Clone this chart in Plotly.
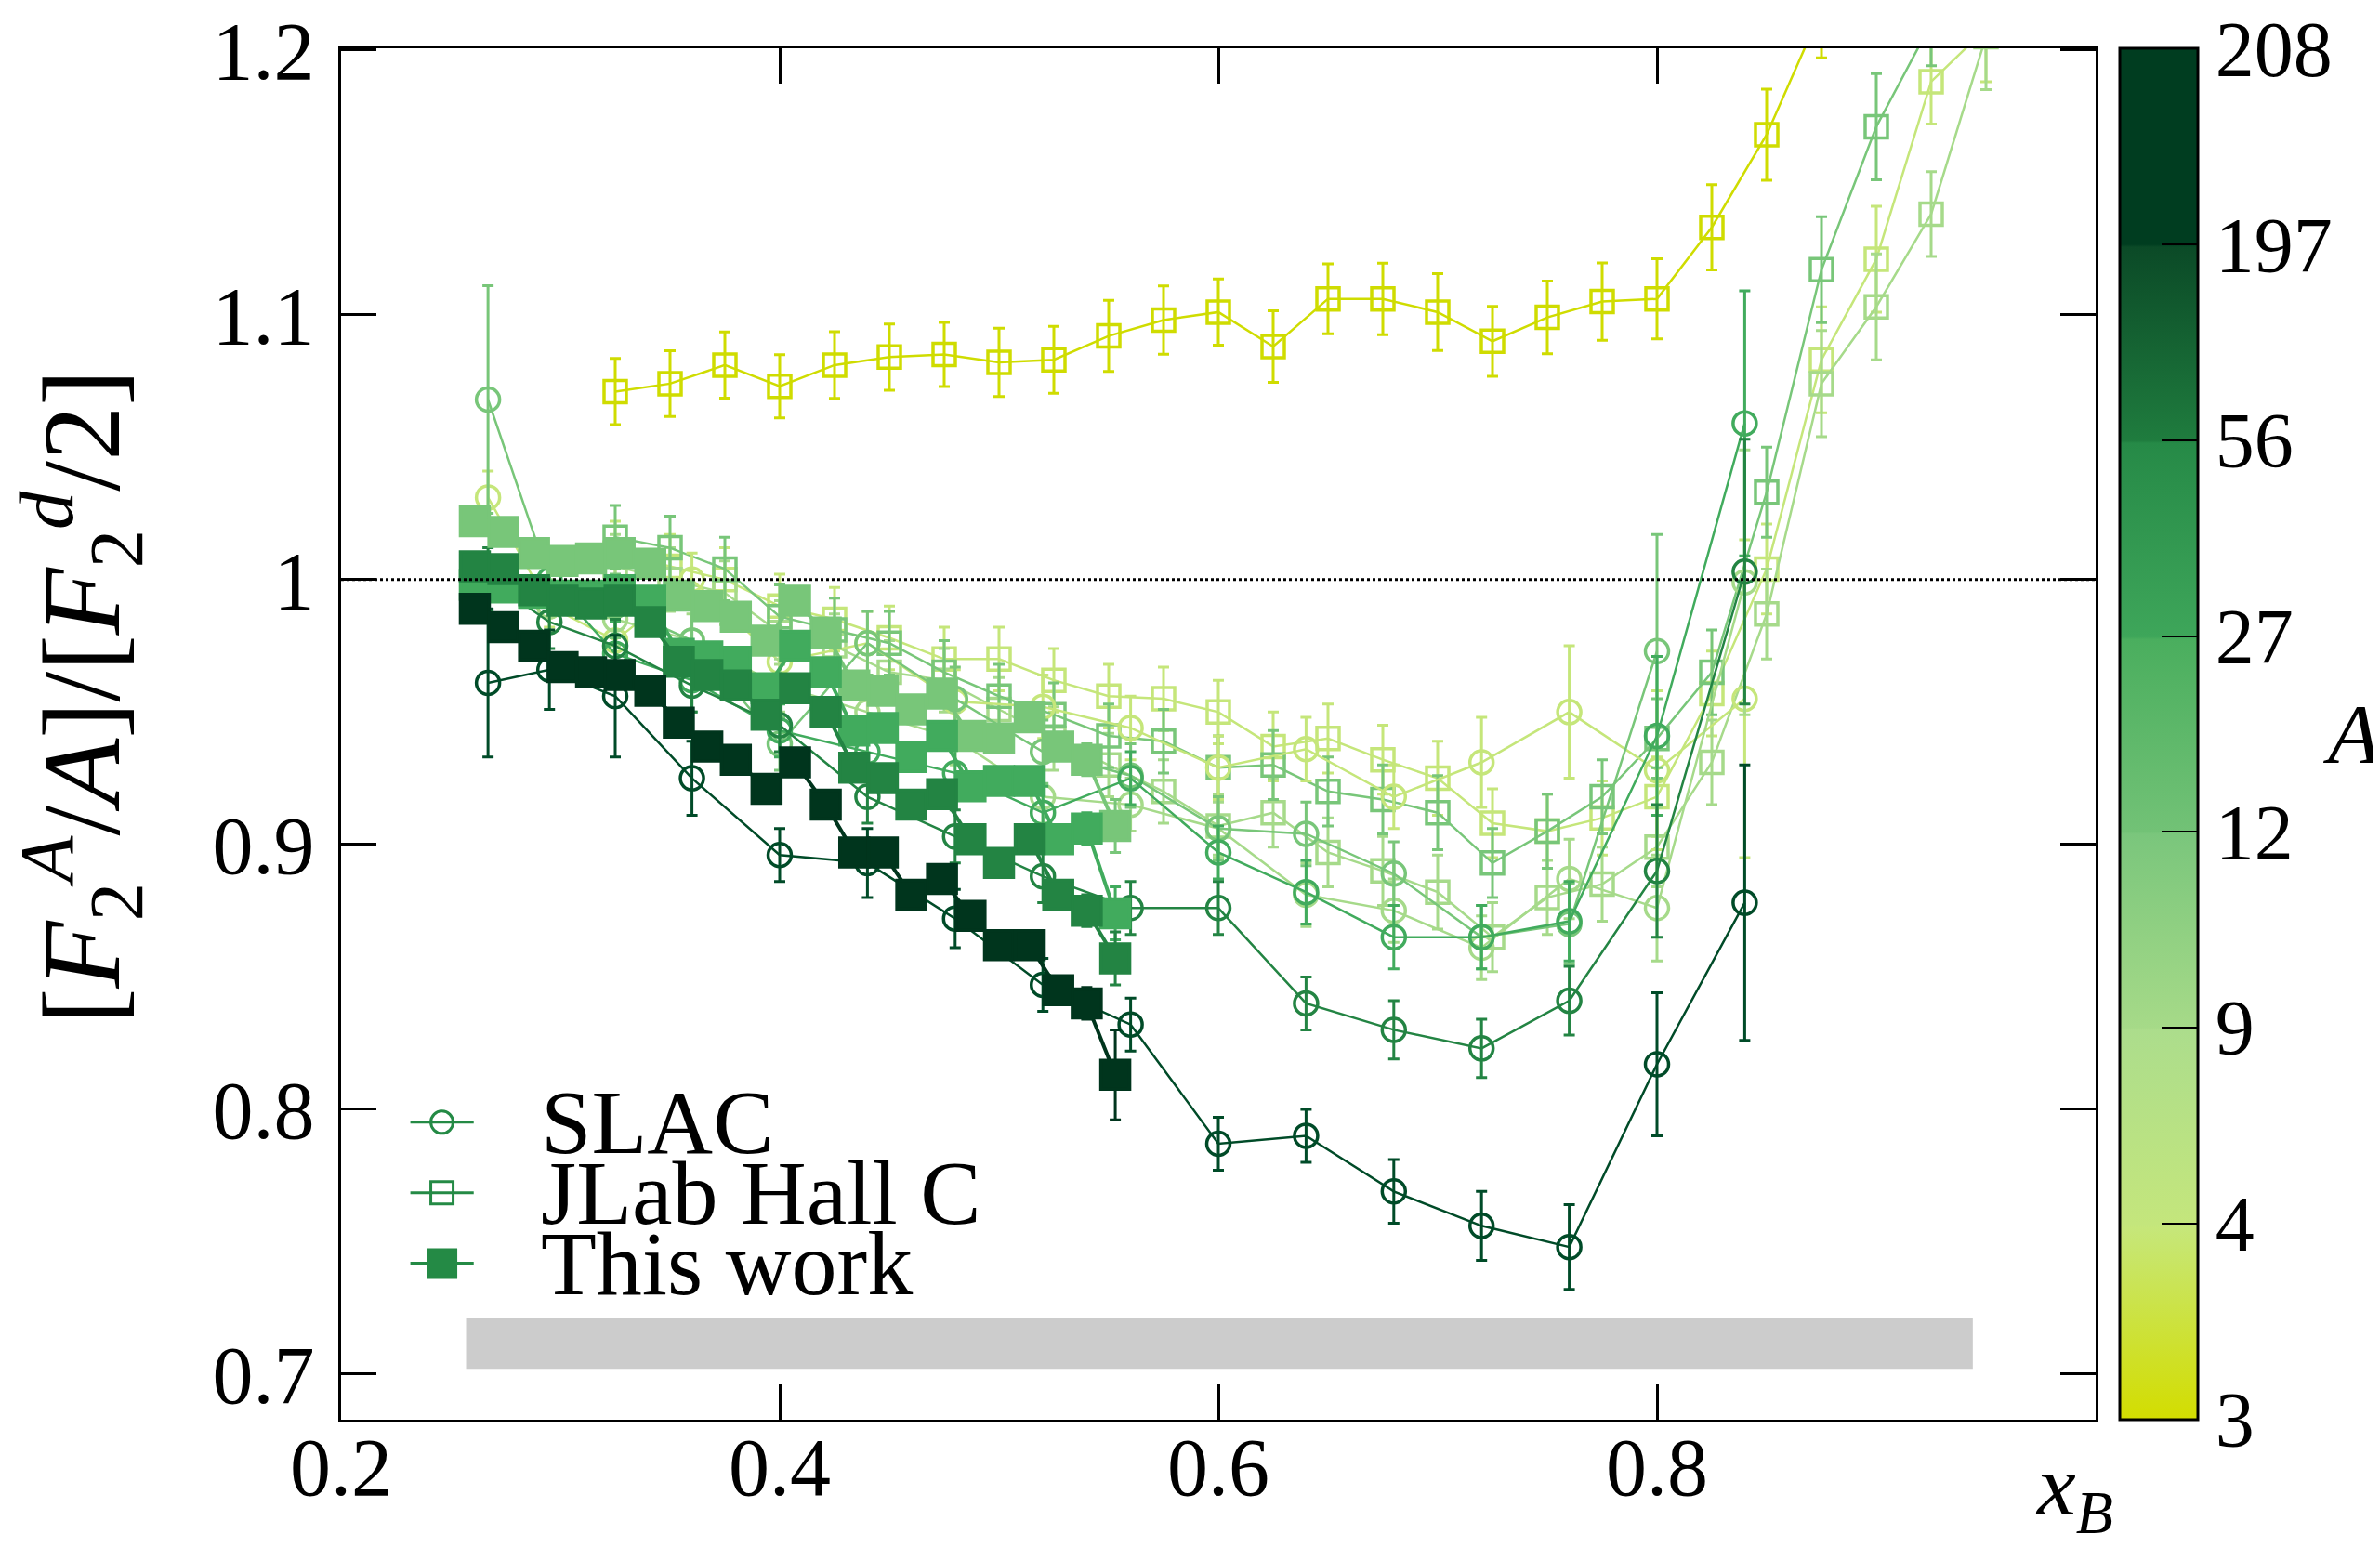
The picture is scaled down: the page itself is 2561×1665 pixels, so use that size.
import plotly.graph_objects as go

# ---- this work (filled squares) ----
x_this = [0.261, 0.274, 0.288, 0.301, 0.314, 0.327, 0.341, 0.354, 0.367, 0.380, 0.394, 0.407,
          0.421, 0.434, 0.447, 0.460, 0.474, 0.487, 0.500, 0.514, 0.527, 0.540, 0.553]
this_c12 = [1.022, 1.018, 1.010, 1.007, 1.008, 1.010, 1.006, 0.994, 0.990, 0.986, 0.977, 0.992,
            0.980, 0.960, 0.958, 0.951, 0.957, 0.941, 0.940, 0.948, 0.937, 0.932, 0.907]
this_al27 = [0.998, 0.997, 0.995, 0.994, 0.994, 0.996, 0.992, 0.972, 0.971, 0.969, 0.959, 0.975,
             0.965, 0.943, 0.944, 0.933, 0.941, 0.922, 0.924, 0.924, 0.902, 0.906, 0.874]
this_fe56 = [1.005, 1.004, 0.996, 0.992, 0.991, 0.992, 0.984, 0.969, 0.964, 0.960, 0.949, 0.959,
             0.950, 0.929, 0.925, 0.915, 0.919, 0.902, 0.893, 0.902, 0.881, 0.875, 0.857]
this_pb208 = [0.989, 0.982, 0.975, 0.967, 0.965, 0.964, 0.958, 0.946, 0.937, 0.932, 0.921, 0.931,
              0.915, 0.897, 0.897, 0.881, 0.887, 0.873, 0.862, 0.862, 0.845, 0.840, 0.813]
this_err = [0.005] * 21 + [0.006, 0.010]
this_err_pb = [0.005] * 21 + [0.006, 0.017]

# ---- SLAC (open circles) ----
x_slac = [0.267, 0.295, 0.325, 0.36, 0.40, 0.44, 0.48, 0.52, 0.56, 0.60, 0.64, 0.68, 0.72, 0.76, 0.80, 0.84]
slac_he4 = [1.031, 0.990, 0.977, 1.000, 0.969, 0.976, 0.954, 0.952, 0.944, 0.929, 0.936, 0.918, 0.931, 0.950, 0.928, 0.955]
slac_he4_err = [0.010, 0.008, 0.008, 0.010, 0.010, 0.012, 0.012, 0.012, 0.012, 0.012, 0.012, 0.012, 0.017, 0.025, 0.030, 0.060]
slac_be9 = [None, 0.990, 0.985, 0.977, 0.960, 0.950, 0.940, 0.918, 0.915, 0.906, 0.881, 0.875, 0.861, 0.887, 0.876, 0.999]
slac_be9_err = [0, 0.010, 0.010, 0.010, 0.010, 0.010, 0.010, 0.010, 0.010, 0.010, 0.012, 0.012, 0.012, 0.015, 0.020, 0.050]
slac_c12 = [1.068, 1.000, 0.990, 0.977, 0.938, 0.976, 0.955, 0.935, 0.926, 0.906, 0.904, 0.889, 0.865, 0.870, 0.973, None]
slac_c12_err = [0.043, 0.012, 0.012, 0.012, 0.010, 0.012, 0.012, 0.012, 0.012, 0.012, 0.012, 0.012, 0.012, 0.015, 0.044, 0]
slac_al27 = [None, 1.000, 0.972, 0.962, 0.943, 0.935, 0.927, 0.912, 0.925, 0.897, 0.882, 0.865, 0.865, 0.871, 0.941, 1.059]
slac_al27_err = [0, 0.012, 0.012, 0.012, 0.010, 0.010, 0.010, 0.010, 0.010, 0.010, 0.012, 0.012, 0.012, 0.015, 0.030, 0.050]
slac_fe56 = [1.000, 0.984, 0.975, 0.960, 0.945, 0.918, 0.903, 0.888, 0.876, 0.876, 0.840, 0.830, 0.823, 0.841, 0.890, 1.003]
slac_fe56_err = [0.012, 0.010, 0.010, 0.010, 0.010, 0.010, 0.010, 0.010, 0.010, 0.010, 0.010, 0.011, 0.011, 0.013, 0.025, 0.050]
slac_au197 = [0.961, 0.966, 0.956, 0.925, 0.896, 0.893, 0.872, 0.847, 0.832, 0.787, 0.790, 0.769, 0.756, 0.748, 0.817, 0.878]
slac_au197_err = [0.028, 0.015, 0.023, 0.014, 0.010, 0.013, 0.011, 0.010, 0.010, 0.010, 0.010, 0.012, 0.013, 0.016, 0.027, 0.052]

# ---- JLab Hall C (open squares) ----
x_jlab = [0.325, 0.35, 0.375, 0.40, 0.425, 0.45, 0.475, 0.50, 0.525, 0.55, 0.575, 0.60, 0.625,
          0.65, 0.675, 0.70, 0.725, 0.75, 0.775, 0.80, 0.825, 0.85, 0.875, 0.90, 0.925, 0.95]
jlab_he3 = [1.071, 1.074, 1.081, 1.073, 1.081, 1.084, 1.085, 1.082, 1.083, 1.092, 1.098, 1.101, 1.088,
            1.106, 1.106, 1.101, 1.090, 1.099, 1.105, 1.106, 1.133, 1.168, 1.215, None, None, None]
jlab_he3_err = [0.0125, 0.0124, 0.0125, 0.0119, 0.0126, 0.0125, 0.0121, 0.0129, 0.0126, 0.0134, 0.0129,
                0.0125, 0.0135, 0.0132, 0.0135, 0.0145, 0.0132, 0.0137, 0.0146, 0.0151, 0.0161, 0.0172,
                0.018, 0, 0, 0]
jlab_he4 = [1.010, 1.005, 1.000, 0.990, 0.985, 0.978, 0.970, 0.970, 0.962, 0.956, 0.955, 0.950, 0.937,
            0.940, 0.932, 0.925, 0.908, 0.905, 0.910, 0.918, 0.957, 1.004, 1.083, 1.121, 1.188, 1.208]
jlab_be9 = [1.005, 1.000, 0.995, 0.980, 0.975, 0.965, 0.962, 0.951, 0.940, 0.930, 0.920, 0.907, 0.912,
            0.897, 0.890, 0.882, 0.865, 0.880, 0.885, 0.899, 0.931, 0.987, 1.074, 1.103, 1.138, 1.205]
jlab_c12 = [1.016, 1.012, 1.004, 0.986, 0.981, 0.976, 0.965, 0.956, 0.949, 0.941, 0.939, 0.929, 0.930,
            0.920, 0.917, 0.912, 0.893, 0.905, 0.918, 0.940, 0.965, 1.033, 1.117, 1.171, 1.210, None]
jlab_err = [0.012, 0.012, 0.012, 0.012, 0.012, 0.012, 0.012, 0.012, 0.012, 0.012, 0.012, 0.012, 0.013,
            0.013, 0.013, 0.014, 0.013, 0.014, 0.014, 0.015, 0.016, 0.017, 0.020, 0.020, 0.016, 0.020]

# normalisation band
band_x = [0.257, 0.944]
band_y = [0.702, 0.721]

# colour of each nucleus A
col = {3: "#cfdc00", 4: "#c5e67a", 9: "#a6da8a", 12: "#78c679",
       27: "#41ab5d", 56: "#238443", 197: "#004b28", 208: "#00351d"}
cbar_labels = ["3", "4", "9", "12", "27", "56", "197", "208"]
legend_names = ["SLAC", "JLab Hall C", "This work"]

FONT = "Liberation Serif"
TICK_SIZE = 88

# plot area in pixels, used to place legend glyphs in paper units
PW, PH = 1888, 1476

fig = go.Figure()

# grey band
fig.add_trace(go.Scatter(x=[band_x[0], band_x[1], band_x[1], band_x[0], band_x[0]],
                         y=[band_y[0], band_y[0], band_y[1], band_y[1], band_y[0]],
                         fill="toself", fillcolor="#cccccc", line=dict(width=0),
                         mode="lines", showlegend=False, hoverinfo="skip"))


def add_series(x, y, err, a, symbol, size, lw):
    c = col[a]
    fig.add_trace(go.Scatter(
        x=x, y=y, mode="lines+markers", connectgaps=True,
        error_y=dict(type="data", array=err, color=c, thickness=3, width=6),
        marker=dict(symbol=symbol, size=size, color=c, line=dict(color=c, width=3.5)),
        line=dict(color=c, width=lw), showlegend=False))


# JLab
add_series(x_jlab, jlab_he3, jlab_he3_err, 3, "square-open", 24, 2.5)
add_series(x_jlab, jlab_he4, jlab_err, 4, "square-open", 24, 2.5)
add_series(x_jlab, jlab_be9, jlab_err, 9, "square-open", 24, 2.5)
add_series(x_jlab, jlab_c12, jlab_err, 12, "square-open", 24, 2.5)

# SLAC
add_series(x_slac, slac_he4, slac_he4_err, 4, "circle-open", 25, 2.5)
add_series(x_slac, slac_be9, slac_be9_err, 9, "circle-open", 25, 2.5)
add_series(x_slac, slac_c12, slac_c12_err, 12, "circle-open", 25, 2.5)
add_series(x_slac, slac_al27, slac_al27_err, 27, "circle-open", 25, 2.5)
add_series(x_slac, slac_fe56, slac_fe56_err, 56, "circle-open", 25, 2.5)
add_series(x_slac, slac_au197, slac_au197_err, 197, "circle-open", 25, 2.5)

# this work
add_series(x_this, this_c12, this_err, 12, "square", 31, 4)
add_series(x_this, this_al27, this_err, 27, "square", 31, 4)
add_series(x_this, this_fe56, this_err, 56, "square", 31, 4)
add_series(x_this, this_pb208, this_err_pb, 208, "square", 31, 4)

# colour bar
cscale = [[0.0, "#d3dd00"], [0.140, "#c6e77a"], [0.143, "#c4e67c"], [0.284, "#acdd8c"],
          [0.286, "#a6da88"], [0.427, "#7ac67c"], [0.429, "#72c276"], [0.569, "#4aae5e"],
          [0.571, "#3ea65a"], [0.712, "#268a47"], [0.714, "#1f7c3e"], [0.855, "#0b4a27"],
          [0.857, "#003d20"], [1.0, "#003d20"]]
fig.add_trace(go.Scatter(
    x=[None], y=[None], mode="markers", showlegend=False, hoverinfo="skip",
    marker=dict(color=[0], cmin=-0.003, cmax=7.003, colorscale=cscale, showscale=True,
                colorbar=dict(x=1.0138, xanchor="left", xpad=0, ypad=0, y=0.5, yanchor="middle",
                              len=1, thickness=84, outlinewidth=3, outlinecolor="black",
                              tickvals=list(range(8)), ticktext=cbar_labels,
                              ticks="inside", ticklen=40, tickwidth=2, tickcolor="black",
                              ticklabeloverflow="allow",
                              tickfont=dict(family=FONT, size=TICK_SIZE - 4, color="black")))))

fig.add_hline(y=1.0, line=dict(color="black", width=3, dash="dot"))

# hand-made legend (glyph + label), in paper units
leg_col = "#248a45"
leg_x0, leg_x1, leg_xc = 0.0395, 0.0756, 0.0575
leg_rows = [0.2169, 0.1654, 0.1139]
r_px = 12
for name, yc, kind in zip(legend_names, leg_rows, ["circle", "rect", "fill"]):
    lw = 4 if kind == "fill" else 3
    fig.add_shape(type="line", xref="paper", yref="paper", x0=leg_x0, x1=leg_x1, y0=yc, y1=yc,
                  line=dict(color=leg_col, width=lw))
    h = 15 if kind == "fill" else r_px
    fig.add_shape(type="circle" if kind == "circle" else "rect", xref="paper", yref="paper",
                  x0=leg_xc - h / PW, x1=leg_xc + h / PW, y0=yc - h / PH, y1=yc + h / PH,
                  line=dict(color=leg_col, width=3),
                  fillcolor=leg_col if kind == "fill" else "rgba(0,0,0,0)")
    fig.add_annotation(text=name, xref="paper", yref="paper", x=0.1128, y=yc,
                       xanchor="left", yanchor="middle", showarrow=False,
                       font=dict(family=FONT, size=98, color="black"))

axis_common = dict(showline=True, linewidth=3, linecolor="black", mirror="ticks",
                   ticks="inside", ticklen=38, tickwidth=2.5, tickcolor="black",
                   showgrid=False, zeroline=False, automargin=False, ticklabeloverflow="allow",
                   tickfont=dict(family=FONT, size=TICK_SIZE, color="black"))

fig.update_xaxes(range=[0.2, 1.0], tickvals=[0.2, 0.4, 0.6, 0.8], ticktext=["0.2", "0.4", "0.6", "0.8"],
                 ticklabelstandoff=-28, **axis_common)
fig.update_yaxes(range=[0.6828, 1.2006], tickvals=[0.7, 0.8, 0.9, 1.0, 1.1, 1.2],
                 ticktext=["0.7", "0.8", "0.9", "1", "1.1", "1.2"], ticklabelstandoff=8, **axis_common)

fig.add_annotation(text="[<i>F</i><sub>2</sub><sup><i>A</i></sup>/<i>A</i>]/[<i>F</i><sub>2</sub><sup><i>d</i></sup>/2]",
                   xref="paper", yref="paper", x=-0.148, y=0.527, textangle=-90,
                   xanchor="center", yanchor="middle", showarrow=False,
                   font=dict(family=FONT, size=118, color="black"))
fig.add_annotation(text="<i>x</i><sub><i>B</i></sub>", xref="paper", yref="paper", x=0.988, y=-0.052,
                   xanchor="center", yanchor="middle", showarrow=False,
                   font=dict(family=FONT, size=94, color="black"))
fig.add_annotation(text="<i>A</i>", xref="paper", yref="paper", x=1.146, y=0.50,
                   xanchor="center", yanchor="middle", showarrow=False,
                   font=dict(family=FONT, size=92, color="black"))

fig.update_layout(
    width=2561, height=1665,
    margin=dict(l=359, r=314, t=44, b=145),
    plot_bgcolor="white", paper_bgcolor="white",
    font=dict(family=FONT, color="black"),
    showlegend=False,
)

fig.write_html("out.html")
